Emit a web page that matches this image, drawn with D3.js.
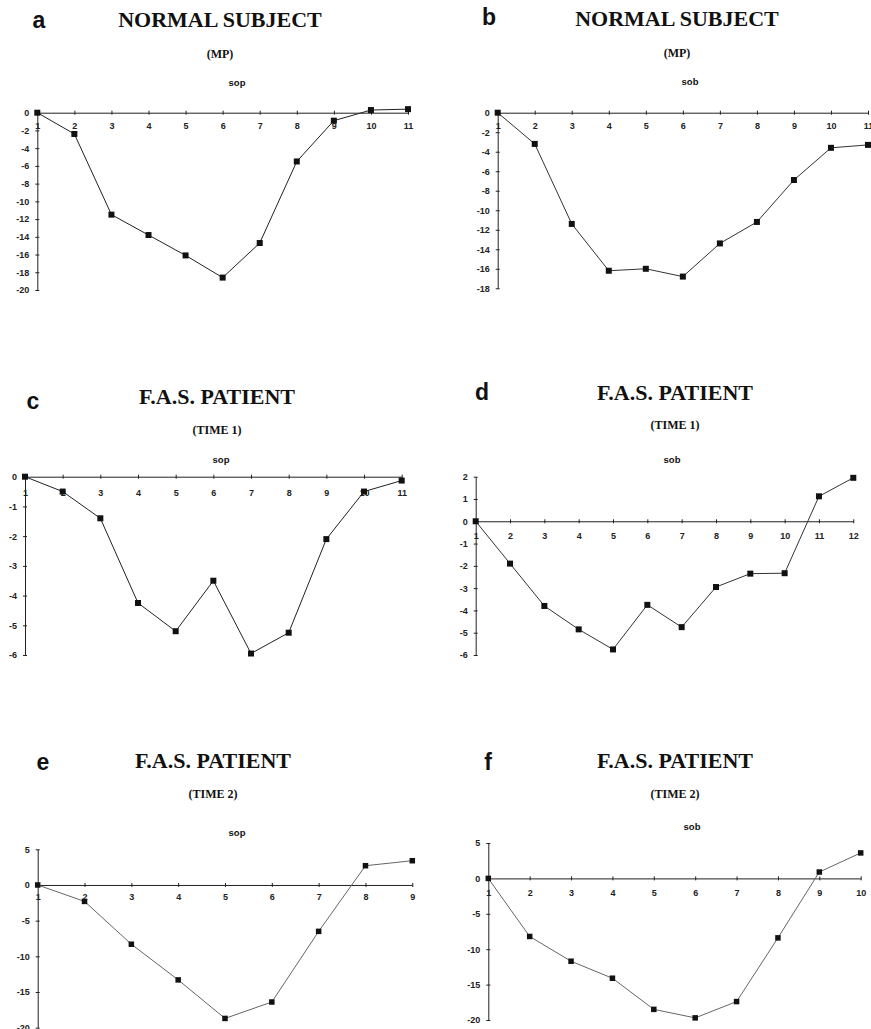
<!DOCTYPE html>
<html>
<head>
<meta charset="utf-8">
<script src="https://cdn.jsdelivr.net/npm/d3@7"></script>
<style>
  body { margin: 0; background: #fff; }
  svg { display: block; }
  .tick-label { font-family: "Liberation Sans", Arial, sans-serif; font-weight: bold; font-size: 9px; fill: #222; }
  .letter { font-family: "Liberation Sans", Arial, sans-serif; font-weight: bold; font-size: 23px; fill: #111; }
  .title { font-family: "Liberation Serif", "DejaVu Serif", serif; font-weight: bold; font-size: 22px; fill: #111; }
  .sub { font-family: "Liberation Serif", "DejaVu Serif", serif; font-weight: bold; font-size: 12px; fill: #111; }
  .meas { font-family: "Liberation Sans", Arial, sans-serif; font-weight: bold; font-size: 9.5px; fill: #111; }
</style>
</head>
<body>
<div id="chart"></div>
<script>
// Session numbers (x categories) per panel
const catsA = [1, 2, 3, 4, 5, 6, 7, 8, 9, 10, 11];
const catsB = [1, 2, 3, 4, 5, 6, 7, 8, 9, 10, 11];
const catsC = [1, 2, 3, 4, 5, 6, 7, 8, 9, 10, 11];
const catsD = [1, 2, 3, 4, 5, 6, 7, 8, 9, 10, 11, 12];
const catsE = [1, 2, 3, 4, 5, 6, 7, 8, 9];
const catsF = [1, 2, 3, 4, 5, 6, 7, 8, 9, 10];

// Values
const valsA = [0, -2.4, -11.5, -13.8, -16.1, -18.6, -14.7, -5.5, -0.9, 0.3, 0.4];
const valsB = [0, -3.2, -11.4, -16.2, -16.0, -16.8, -13.4, -11.2, -6.9, -3.6, -3.3];
const valsC = [0, -0.5, -1.4, -4.25, -5.2, -3.5, -5.95, -5.25, -2.1, -0.5, -0.13];
const valsD = [0, -1.9, -3.8, -4.85, -5.75, -3.75, -4.75, -2.95, -2.35, -2.33, 1.12, 1.95];
const valsE = [0, -2.3, -8.3, -13.3, -18.7, -16.4, -6.5, 2.7, 3.4];
const valsF = [0, -8.2, -11.7, -14.1, -18.5, -19.7, -17.4, -8.4, 0.9, 3.6];

// Y axis ticks per panel
const ticksA = d3.range(0, -21, -2);
const ticksB = d3.range(0, -19, -2);
const ticksC = d3.range(0, -7, -1);
const ticksD = d3.range(2, -7, -1);
const ticksE = [5, 0, -5, -10, -15, -20];
const ticksF = [5, 0, -5, -10, -15, -20];

const panels = [
  {letter: "a", title: "NORMAL SUBJECT", sub: "(MP)", meas: "sop", cats: catsA, vals: valsA, ticks: ticksA,
   x0: 37.3, x1: 408, dom: [-20, 0], rng: [290, 112.7], letterX: 39, letterY: 28, titleX: 220, titleY: 27,
   subY: 58, measX: 237, measY: 86, labDy: 16.5, stroke: "#222", sq: 6},
  {letter: "b", title: "NORMAL SUBJECT", sub: "(MP)", meas: "sob", cats: catsB, vals: valsB, ticks: ticksB,
   x0: 497.7, x1: 868, dom: [-18, 0], rng: [288.3, 112.7], letterX: 489, letterY: 25, titleX: 677, titleY: 26,
   subY: 57, measX: 690, measY: 85, labDy: 16.5, stroke: "#333", sq: 6},
  {letter: "c", title: "F.A.S. PATIENT", sub: "(TIME 1)", meas: "sop", cats: catsC, vals: valsC, ticks: ticksC,
   x0: 25, x1: 401.7, dom: [-6, 0], rng: [655, 476.7], letterX: 33, letterY: 409, titleX: 217, titleY: 404,
   subY: 434, measX: 221, measY: 463, labDy: 19.5, stroke: "#222", sq: 6},
  {letter: "d", title: "F.A.S. PATIENT", sub: "(TIME 1)", meas: "sob", cats: catsD, vals: valsD, ticks: ticksD,
   x0: 475.7, x1: 853.3, dom: [-6, 2], rng: [655, 476.7], letterX: 482, letterY: 400, titleX: 675, titleY: 400,
   subY: 429, measX: 672, measY: 463, labDy: 17.5, stroke: "#333", sq: 6},
  {letter: "e", title: "F.A.S. PATIENT", sub: "(TIME 2)", meas: "sop", cats: catsE, vals: valsE, ticks: ticksE,
   x0: 37.7, x1: 412.3, dom: [-20, 5], rng: [1027.7, 849.3], letterX: 43, letterY: 770, titleX: 213, titleY: 768,
   subY: 798, measX: 237, measY: 836, labDy: 15.5, stroke: "#666", sq: 5.5},
  {letter: "f", title: "F.A.S. PATIENT", sub: "(TIME 2)", meas: "sob", cats: catsF, vals: valsF, ticks: ticksF,
   x0: 488.3, x1: 860.7, dom: [-20, 5], rng: [1020, 843], letterX: 488, letterY: 770, titleX: 675, titleY: 768,
   subY: 798, measX: 692, measY: 830, labDy: 18, stroke: "#666", sq: 5.5}
];

const svg = d3.select("#chart")
  .append("svg")
  .attr("width", 871)
  .attr("height", 1029);

panels.forEach(p => {
  const g = svg.append("g");

  const x = d3.scalePoint().domain(p.cats).range([p.x0, p.x1]);
  const y = d3.scaleLinear().domain(p.dom).range(p.rng);

  // headings
  g.append("text").attr("class", "letter")
    .attr("x", p.letterX).attr("y", p.letterY)
    .attr("text-anchor", "middle")
    .text(p.letter);
  g.append("text").attr("class", "title")
    .attr("x", p.titleX).attr("y", p.titleY)
    .attr("text-anchor", "middle")
    .text(p.title);
  g.append("text").attr("class", "sub")
    .attr("x", p.titleX).attr("y", p.subY)
    .attr("text-anchor", "middle")
    .text(p.sub);
  g.append("text").attr("class", "meas")
    .attr("x", p.measX).attr("y", p.measY)
    .attr("text-anchor", "middle")
    .text(p.meas);

  // x axis along zero
  const xAxis = d3.axisBottom(x).tickSize(0).tickPadding(0).tickFormat(d => String(d));
  const xg = g.append("g")
    .attr("transform", `translate(0,${y(0)})`)
    .call(xAxis);
  xg.select(".domain").attr("stroke", "#222").attr("stroke-width", 1);
  xg.selectAll(".tick text").attr("class", "tick-label").attr("dy", null).attr("y", p.labDy);
  xg.selectAll(".tick").append("line")
    .attr("y1", -2).attr("y2", 2).attr("stroke", "#222");

  // y axis
  const yAxis = d3.axisLeft(y).tickValues(p.ticks).tickSizeInner(2).tickSizeOuter(0)
    .tickPadding(6).tickFormat(d => String(d));
  const yg = g.append("g")
    .attr("transform", `translate(${p.x0},0)`)
    .call(yAxis);
  yg.select(".domain").attr("stroke", "#222").attr("stroke-width", 1);
  yg.selectAll(".tick line").attr("x1", 2).attr("stroke", "#222");
  yg.selectAll(".tick text").attr("class", "tick-label");

  // series line
  const pts = p.cats.map((c, i) => [c, p.vals[i]]);
  g.append("path")
    .datum(pts)
    .attr("fill", "none")
    .attr("stroke", p.stroke)
    .attr("stroke-width", 1)
    .attr("d", d3.line().x(d => x(d[0])).y(d => y(d[1])));

  g.selectAll("rect.pt")
    .data(pts)
    .enter()
    .append("rect")
    .attr("class", "pt")
    .attr("x", d => x(d[0]) - p.sq / 2)
    .attr("y", d => y(d[1]) - p.sq / 2)
    .attr("width", p.sq)
    .attr("height", p.sq)
    .attr("fill", "#111");
});
</script>
</body>
</html>
